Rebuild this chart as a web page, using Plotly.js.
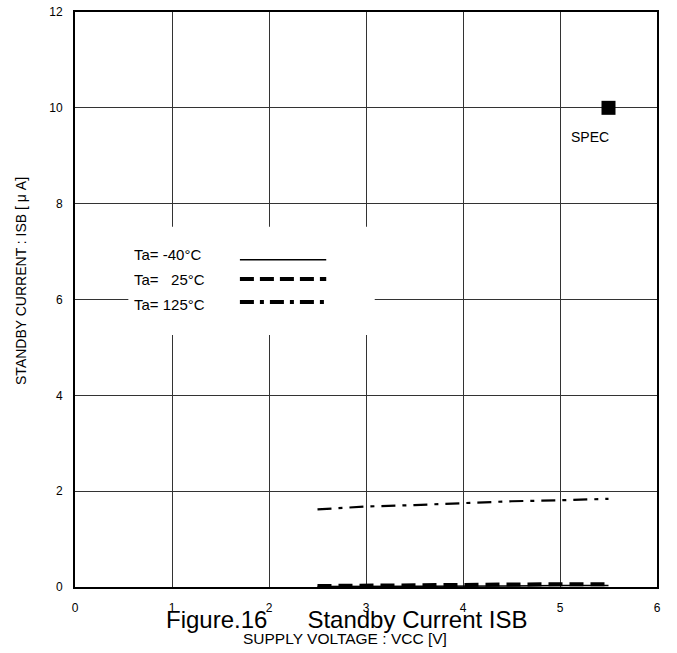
<!DOCTYPE html>
<html>
<head>
<meta charset="utf-8">
<script src="https://cdn.plot.ly/plotly-3.0.1.min.js"></script>
<style>html,body{margin:0;padding:0;background:#fff;}#chart{width:677px;height:653px;}</style>
</head>
<body>
<div id="chart"></div>
<script>
// Supply voltage VCC [V]
const vcc = [2.5, 3.0, 3.5, 4.0, 4.5, 5.0, 5.5];
// Standby current ISB [uA]
const isbM40 = [0.01, 0.01, 0.02, 0.02, 0.02, 0.03, 0.03];
const isb25 = [0.02, 0.03, 0.05, 0.06, 0.06, 0.06, 0.06];
const isb125 = [1.62, 1.68, 1.71, 1.75, 1.79, 1.81, 1.84];
const specX = [5.5];
const specY = [10];
const legendLabels = ["Ta= -40\u00b0C", "Ta=\u00a0\u00a0 25\u00b0C", "Ta= 125\u00b0C"];
const xTicks = [0, 1, 2, 3, 4, 5, 6];
const yTicks = [0, 2, 4, 6, 8, 10, 12];

const traces = [
  {x: vcc, y: isbM40, mode: 'lines', line: {color: '#000', width: 1.5}, showlegend: false, hoverinfo: 'skip'},
  {x: vcc, y: isb25, mode: 'lines', line: {color: '#000', width: 4, dash: '14px,7px'}, showlegend: false, hoverinfo: 'skip'},
  {x: vcc, y: isb125, mode: 'lines', line: {color: '#000', width: 2.2, dash: '14px,7px,4px,7px'}, showlegend: false, hoverinfo: 'skip'},
  {x: specX, y: specY, mode: 'markers', marker: {symbol: 'square', size: 14, color: '#000'}, showlegend: false, hoverinfo: 'skip'}
];

const font = 'Liberation Sans, Arial, sans-serif';
const narrow = 'Liberation Sans Narrow, Liberation Sans, Arial, sans-serif';
const legLineY = [6.83, 6.43, 5.95];
const legTextY = [6.93, 6.41, 5.89];
const legDash = ['solid', '14px,6px', '14px,6px,4px,6px'];
const legW = [1.5, 4, 4];

const shapes = [
  {type: 'rect', xref: 'x', yref: 'y', x0: 0.55, x1: 3.09, y0: 5.26, y1: 7.52, fillcolor: '#fff', line: {width: 0}, layer: 'above'}
];
const annotations = [];
for (let i = 0; i < 3; i++) {
  shapes.push({type: 'line', xref: 'x', yref: 'y', x0: 1.70, x1: 2.59, y0: legLineY[i], y1: legLineY[i], line: {color: '#000', width: legW[i], dash: legDash[i]}, layer: 'above'});
  annotations.push({xref: 'x', yref: 'y', x: 0.59, y: legTextY[i], text: legendLabels[i], showarrow: false, xanchor: 'left', yanchor: 'middle', font: {family: font, size: 15, color: '#000'}});
}
annotations.push({xref: 'x', yref: 'y', x: 5.31, y: 9.4, text: 'SPEC', showarrow: false, font: {family: font, size: 14, color: '#000'}});
annotations.push({xref: 'paper', yref: 'paper', x: 0.467, y: -0.057, yanchor: 'middle', text: 'Figure.16\u00a0\u00a0\u00a0\u00a0\u00a0\u00a0Standby Current ISB', showarrow: false, font: {family: narrow, size: 24, color: '#000'}});
annotations.push({xref: 'paper', yref: 'paper', x: 0.464, y: -0.089, yanchor: 'middle', text: 'SUPPLY VOLTAGE : VCC [V]', showarrow: false, font: {family: narrow, size: 15.5, color: '#000'}});
annotations.push({xref: 'paper', yref: 'paper', x: -0.093, xanchor: 'center', y: 0.532, text: 'STANDBY CURRENT : ISB [ \u03bc A]', textangle: -90, showarrow: false, font: {family: narrow, size: 14, color: '#000'}});

const layout = {
  width: 677, height: 653,
  margin: {l: 75, r: 20, t: 12, b: 66},
  paper_bgcolor: '#fff', plot_bgcolor: '#fff',
  showlegend: false,
  xaxis: {range: [0, 6], tickvals: xTicks, ticktext: xTicks.map(String), showgrid: true, gridcolor: '#333', gridwidth: 1,
          zeroline: false, showline: true, linecolor: '#000', linewidth: 2, mirror: true, ticks: '',
          tickfont: {family: font, size: 12, color: '#000'}, ticklabelstandoff: 9},
  yaxis: {range: [0, 12], tickvals: yTicks, ticktext: yTicks.map(String), showgrid: true, gridcolor: '#333', gridwidth: 1,
          zeroline: false, showline: true, linecolor: '#000', linewidth: 2, mirror: true, ticks: '',
          tickfont: {family: font, size: 12, color: '#000'}, ticklabelstandoff: 8},
  shapes: shapes,
  annotations: annotations
};
Plotly.newPlot('chart', traces, layout, {staticPlot: true, displayModeBar: false});
</script>
</body>
</html>
